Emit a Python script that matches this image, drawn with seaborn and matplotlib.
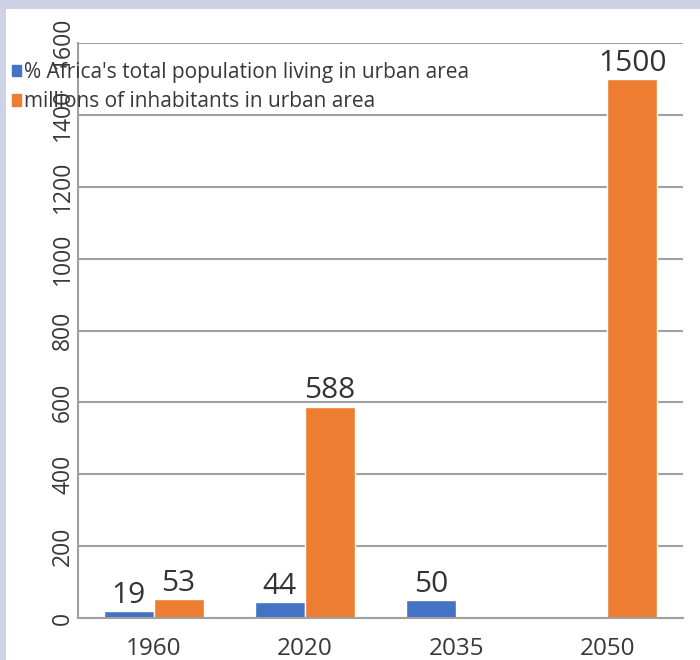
import pandas as pd
import numpy as np
import matplotlib.pyplot as plt
import matplotlib.patches as mpatches
import seaborn as sns

years = ["1960", "2020", "2035", "2050"]
pct_urban = [19, 44, 50, np.nan]
millions_urban = [53, 588, np.nan, 1500]
series_names = ["% Africa's total population living in urban area",
                "millions of inhabitants in urban area"]
colors = ["#4472C4", "#ED7D31"]

df = pd.DataFrame({
    "year": years * 2,
    "value": pct_urban + millions_urban,
    "series": [series_names[0]] * 4 + [series_names[1]] * 4,
})

sns.set_style("white")
plt.rcParams["font.family"] = ["Open Sans", "DejaVu Sans"]
text_color = "#383838"

fig = plt.figure(figsize=(7, 6.6), dpi=100)
fig.patch.set_facecolor("#cdd3e4")
fig.patches.append(mpatches.Rectangle((6 / 700, 0), 1, 1 - 9 / 660,
                                      transform=fig.transFigure,
                                      facecolor="white", edgecolor="none", zorder=-1))
ax = fig.add_axes([78 / 700, 42 / 660, 605 / 700, 575 / 660])
ax.set_facecolor("none")

sns.barplot(data=df, x="year", y="value", hue="series", order=years,
            hue_order=series_names, palette=colors, width=0.66,
            saturation=1, legend=False, ax=ax)

for cont in ax.containers:
    ax.bar_label(cont, fmt="%d", padding=1, fontsize=21.5, color="#333333")

ax.set_ylim(0, 1600)
ax.set_xlim(-0.5, 3.5)
ax.set_yticks(range(0, 1601, 200))
ax.yaxis.grid(True, color="#a0a0a0", lw=1.5)
ax.set_axisbelow(True)
ax.set_xlabel("")
ax.set_ylabel("")

for s in ["top", "right"]:
    ax.spines[s].set_visible(False)
for s in ["left", "bottom"]:
    ax.spines[s].set_color("#a0a0a0")
    ax.spines[s].set_linewidth(1.5)

ax.tick_params(axis="x", length=0, labelsize=17.5, labelcolor=text_color, pad=14)
ax.set_xticks([-0.5, 0.5, 1.5, 2.5, 3.5], minor=True)
ax.tick_params(axis="x", which="minor", length=7, width=1.5, color="#a0a0a0")
ax.tick_params(axis="y", length=5, width=1.5, color="#a0a0a0", labelsize=16.5,
               labelcolor=text_color, labelrotation=90, pad=-3)
for lab in ax.get_yticklabels():
    lab.set_va("center")

handles = [mpatches.Patch(color=c, label=n) for c, n in zip(colors, series_names)]
fig.legend(handles=handles, loc="upper left", bbox_to_anchor=(12 / 700, 1 - 62 / 660),
           frameon=False, fontsize=15, handlelength=0.45, handleheight=0.45,
           handletextpad=0.15, labelspacing=0.4, borderaxespad=0, borderpad=0,
           labelcolor=text_color)

fig.savefig("out.png", dpi=100)
